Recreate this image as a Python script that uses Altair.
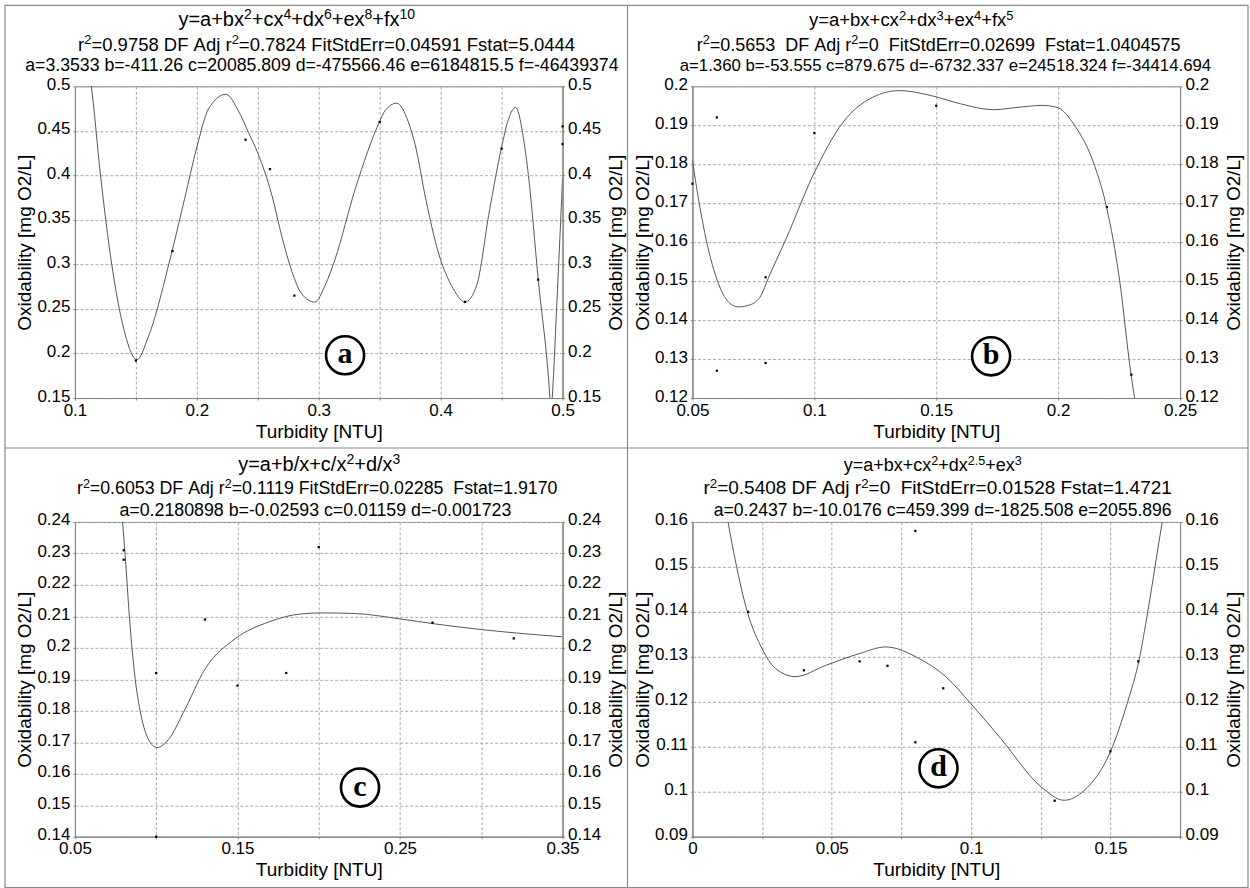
import re
import altair as alt
import pandas as pd

FONT = "Liberation Sans"

# ---------------- panel (a) ----------------
A_CURVE_X = [0.108, 0.1134, 0.1207, 0.1303, 0.140, 0.1508, 0.160, 0.1795, 0.190, 0.200, 0.2096, 0.2238,
             0.234, 0.2424, 0.250, 0.2615, 0.270, 0.278, 0.286, 0.2967, 0.3052, 0.3134, 0.330, 0.3503,
             0.3544, 0.364, 0.3735, 0.379, 0.388, 0.398, 0.4104, 0.420, 0.4295, 0.440, 0.450, 0.4557,
             0.4615, 0.468, 0.472, 0.480, 0.4896, 0.4906, 0.4916, 0.4958, 0.500]
A_CURVE_Y = [0.54, 0.500, 0.4035, 0.299, 0.228, 0.193, 0.218, 0.314, 0.374, 0.4316, 0.4746, 0.491,
             0.4727, 0.448, 0.425, 0.378, 0.330, 0.292, 0.267, 0.2577, 0.2764, 0.306, 0.385, 0.4615,
             0.4727, 0.481, 0.4600, 0.435, 0.372, 0.314, 0.2726, 0.2577, 0.2764, 0.36, 0.4316, 0.4633,
             0.4764, 0.441, 0.40, 0.284, 0.151, 0.13, 0.151, 0.27, 0.396]
A_PTS_X = [0.15, 0.18, 0.24, 0.26, 0.28, 0.35, 0.42, 0.45, 0.48, 0.50, 0.50]
A_PTS_Y = [0.192, 0.315, 0.440, 0.407, 0.265, 0.460, 0.258, 0.430, 0.283, 0.455, 0.435]
A_X_TICKS = [0.1, 0.15, 0.2, 0.25, 0.3, 0.35, 0.4, 0.45, 0.5]
A_X_LABELED = ["0.1", "0.2", "0.3", "0.4", "0.5"]
A_Y_TICKS = [0.15, 0.2, 0.25, 0.3, 0.35, 0.4, 0.45, 0.5]
A_TITLE = ["y=a+bx^{2}+cx^{4}+dx^{6}+ex^{8}+fx^{10}",
           "r^{2}=0.9758 DF Adj r^{2}=0.7824 FitStdErr=0.04591 Fstat=5.0444",
           "a=3.3533 b=-411.26 c=20085.809 d=-475566.46 e=6184815.5 f=-46439374"]

# ---------------- panel (b) ----------------
B_CURVE_X = [0.050, 0.0525, 0.055, 0.060, 0.065, 0.0687, 0.0730, 0.0776, 0.0817, 0.0885, 0.0995,
             0.1118, 0.124, 0.135, 0.148, 0.160, 0.1732, 0.185, 0.1937, 0.1999, 0.2067, 0.2149,
             0.2200, 0.2251, 0.2299, 0.2330]
B_CURVE_Y = [0.181, 0.171, 0.1625, 0.1505, 0.1445, 0.1434, 0.1438, 0.1458, 0.1516, 0.161, 0.1772,
             0.1908, 0.1972, 0.1989, 0.1976, 0.1955, 0.194, 0.1947, 0.1951, 0.1945, 0.19, 0.1797,
             0.1686, 0.1507, 0.126, 0.114]
B_PTS_X = [0.05, 0.06, 0.06, 0.08, 0.08, 0.10, 0.15, 0.22, 0.23]
B_PTS_Y = [0.175, 0.192, 0.127, 0.151, 0.129, 0.188, 0.195, 0.169, 0.126]
B_X_TICKS = [0.05, 0.1, 0.15, 0.2, 0.25]
B_X_LABELED = ["0.05", "0.1", "0.15", "0.2", "0.25"]
B_Y_TICKS = [0.12, 0.13, 0.14, 0.15, 0.16, 0.17, 0.18, 0.19, 0.2]
B_TITLE = ["y=a+bx+cx^{2}+dx^{3}+ex^{4}+fx^{5}",
           "r^{2}=0.5653  DF Adj r^{2}=0  FitStdErr=0.02699  Fstat=1.0404575",
           "a=1.360 b=-53.555 c=879.675 d=-6732.337 e=24518.324 f=-34414.694"]

# ---------------- panel (c) ----------------
C_CURVE_X = [0.0785, 0.0793, 0.0809, 0.0836, 0.0871, 0.0912, 0.0963, 0.1004, 0.1076, 0.1168, 0.1301,
             0.1486, 0.1691, 0.1895, 0.2020, 0.2223, 0.2500, 0.2715, 0.3002, 0.3500]
C_CURVE_Y = [0.245, 0.2400, 0.2294, 0.2092, 0.1900, 0.1773, 0.1700, 0.1683, 0.1709, 0.1795, 0.1933,
             0.2029, 0.2082, 0.2108, 0.2111, 0.2109, 0.2092, 0.2076, 0.2058, 0.2035]
C_PTS_X = [0.08, 0.08, 0.10, 0.10, 0.13, 0.15, 0.18, 0.20, 0.27, 0.32]
C_PTS_Y = [0.231, 0.228, 0.192, 0.140, 0.209, 0.188, 0.192, 0.232, 0.208, 0.203]
C_X_TICKS = [0.05, 0.1, 0.15, 0.2, 0.25, 0.3, 0.35]
C_X_LABELED = ["0.05", "0.15", "0.25", "0.35"]
C_Y_TICKS = [0.14, 0.15, 0.16, 0.17, 0.18, 0.19, 0.2, 0.21, 0.22, 0.23, 0.24]
C_TITLE = ["y=a+b/x+c/x^{2}+d/x^{3}",
           "r^{2}=0.6053 DF Adj r^{2}=0.1119 FitStdErr=0.02285  Fstat=1.9170",
           "a=0.2180898 b=-0.02593 c=0.01159 d=-0.001723"]

# ---------------- panel (d) ----------------
D_CURVE_X = [0.0115, 0.0128, 0.0155, 0.0197, 0.0250, 0.0298, 0.0370, 0.0478, 0.0598, 0.0694, 0.0814,
             0.0909, 0.0999, 0.1107, 0.1251, 0.1334, 0.1406, 0.1500, 0.1562, 0.1604, 0.1634, 0.1686,
             0.1700]
D_CURVE_Y = [0.1650, 0.1600, 0.1511, 0.1400, 0.1318, 0.1274, 0.1256, 0.1281, 0.1307, 0.1322, 0.1296,
             0.1256, 0.1196, 0.1118, 0.1011, 0.0981, 0.1003, 0.1089, 0.1200, 0.1296, 0.1400, 0.1600,
             0.1650]
D_PTS_X = [0.02, 0.04, 0.06, 0.07, 0.08, 0.08, 0.09, 0.13, 0.15, 0.16]
D_PTS_Y = [0.140, 0.127, 0.129, 0.128, 0.158, 0.111, 0.123, 0.098, 0.109, 0.129]
D_X_TICKS = [0, 0.025, 0.05, 0.075, 0.1, 0.125, 0.15, 0.175]
D_X_LABELED = ["0", "0.05", "0.1", "0.15"]
D_Y_TICKS = [0.09, 0.1, 0.11, 0.12, 0.13, 0.14, 0.15, 0.16]
D_TITLE = ["y=a+bx+cx^{2}+dx^{2.5}+ex^{3}",
           "r^{2}=0.5408 DF Adj r^{2}=0  FitStdErr=0.01528 Fstat=1.4721",
           "a=0.2437 b=-10.0176 c=459.399 d=-1825.508 e=2055.896"]

# panel letters (data coordinates inside each panel)
LETTERS = ["a", "b", "c", "d"]
LETTER_X = [0.3216, 0.1725, 0.2254, 0.0883]
LETTER_Y = [0.198, 0.1307, 0.1556, 0.1052]

W = 488
SUP = 0.7

# Arial / Liberation Sans advance widths (1/1000 em) used to lay out superscripts
ADV = {" ": 278, "\u00a0": 278, "+": 584, "-": 333, ".": 278, "/": 278, "=": 584,
       "A": 667, "D": 722, "E": 667, "F": 611, "S": 667,
       "a": 556, "b": 556, "c": 500, "d": 556, "e": 556, "f": 278, "i": 222, "j": 222,
       "r": 333, "s": 500, "t": 278, "x": 500, "y": 500}


def text_width(s, size):
    return sum(ADV.get(ch, 556) for ch in s) * size / 1000.0


def title_rows(lines, sizes, ys, dxs):
    rows = []
    for i, line in enumerate(lines):
        F = sizes[i]
        segs = []
        pos = 0
        for m in re.finditer(r"\^\{([^}]*)\}", line):
            if m.start() > pos:
                segs.append((line[pos:m.start()], False))
            segs.append((m.group(1), True))
            pos = m.end()
        if pos < len(line):
            segs.append((line[pos:], False))
        widths = [text_width(t, F * SUP if s else F) for t, s in segs]
        cur = W / 2 + dxs[i] - sum(widths) / 2
        for (t, s), wd in zip(segs, widths):
            rows.append({"px": cur, "py": ys[i] - (0.36 * F if s else 0),
                         "txt": t.replace(" ", "\u00a0"), "fs": F * SUP if s else F})
            cur += wd
    return pd.DataFrame(rows)


def panel(cx, cy, px, py, xdom, ydom, xticks, xlabeled, yticks, xfmt, title, idx, h,
          title_y, title_dx, title_sizes, extra=()):
    curve = pd.DataFrame({"x": cx, "y": cy})
    pts = pd.DataFrame({"x": px, "y": py})
    lab = pd.DataFrame({"x": [LETTER_X[idx]], "y": [LETTER_Y[idx]], "t": [LETTERS[idx]]})
    xsc = alt.Scale(domain=xdom, nice=False, zero=False)
    ysc = alt.Scale(domain=ydom, nice=False, zero=False)
    lablist = ",".join("'%s'" % s for s in xlabeled)
    xaxis = alt.Axis(values=xticks, format=xfmt, grid=True, title="Turbidity [NTU]",
                     labelExpr="indexof([%s], datum.label) >= 0 ? datum.label : ''" % lablist,
                     titlePadding=4, labelPadding=2)
    yleft = alt.Axis(orient="left", values=yticks, format=".2~f", grid=True,
                     title="Oxidability [mg O2/L]", titlePadding=2, labelPadding=3,
                     labelOffset=-2)
    yright = alt.Axis(orient="right", values=yticks, format=".2~f", grid=False,
                      title="Oxidability [mg O2/L]", titleAngle=270, titleBaseline="top",
                      titlePadding=6, labelPadding=3, labelOffset=-2)
    X = alt.X("x:Q", scale=xsc, axis=xaxis)
    line = alt.Chart(curve).mark_line(clip=True, color="#555555", strokeWidth=1,
                                      interpolate="monotone").encode(
        X, alt.Y("y:Q", scale=ysc, axis=yleft))
    dots = alt.Chart(pts).mark_square(size=5, color="black", opacity=1).encode(
        X, alt.Y("y:Q", scale=ysc, axis=yright))
    circ = alt.Chart(lab).mark_point(shape="circle", size=1450, filled=True, fill="white",
                                     stroke="black", strokeWidth=2.6, opacity=1).encode(
        X, alt.Y("y:Q", scale=ysc, axis=None))
    txt = alt.Chart(lab).mark_text(font="Liberation Serif", fontWeight="bold", fontSize=30,
                                   color="black", baseline="middle", dy=-1).encode(
        X, alt.Y("y:Q", scale=ysc, axis=None), text="t:N")
    inner = alt.layer(*extra, line, dots, circ, txt).resolve_axis(y="independent")

    tdf = title_rows(title, title_sizes, title_y, title_dx)
    tchart = alt.Chart(tdf).mark_text(font=FONT, align="left", baseline="alphabetic",
                                      color="black").encode(
        x=alt.X("px:Q", scale=alt.Scale(domain=[0, W], range=[0, W]), axis=None),
        y=alt.Y("py:Q", scale=alt.Scale(domain=[0, h], range=[0, h]), axis=None),
        size=alt.Size("fs:Q", scale=None, legend=None),
        text="txt:N")
    return alt.layer(tchart, inner).resolve_scale(x="independent", y="independent").properties(
        width=W, height=h)


one = pd.DataFrame({"k": [0]})
frame = alt.Chart(one).mark_rect(fillOpacity=0, stroke="#8a8a8a", strokeWidth=1.2).encode(
    x=alt.value(-70), x2=alt.value(1174), y=alt.value(-81), y2=alt.value(802))
vdiv = alt.Chart(one).mark_rule(color="#8a8a8a", strokeWidth=1.2).encode(
    x=alt.value(553), y=alt.value(-81), y2=alt.value(802))
hdiv = alt.Chart(one).mark_rule(color="#8a8a8a", strokeWidth=1.2).encode(
    x=alt.value(-70), x2=alt.value(1174), y=alt.value(362))

TOP_TY = [-60, -35.5, -15.5]
BOT_TY = [-51, -27.5, -5.5]

pa = panel(A_CURVE_X, A_CURVE_Y, A_PTS_X, A_PTS_Y, [0.1, 0.5], [0.15, 0.5], A_X_TICKS, A_X_LABELED,
           A_Y_TICKS, ".2~f", A_TITLE, 0, 312, TOP_TY, [-22, 8, 4], [20, 18.5, 17.7],
           extra=(frame, vdiv, hdiv))
pb = panel(B_CURVE_X, B_CURVE_Y, B_PTS_X, B_PTS_Y, [0.05, 0.25], [0.12, 0.2], B_X_TICKS, B_X_LABELED,
           B_Y_TICKS, ".2~f", B_TITLE, 1, 312, TOP_TY, [-25, 2.5, 9.5], [18.5, 18, 16.8])
pc = panel(C_CURVE_X, C_CURVE_Y, C_PTS_X, C_PTS_Y, [0.05, 0.35], [0.14, 0.24], C_X_TICKS, C_X_LABELED,
           C_Y_TICKS, ".2~f", C_TITLE, 2, 315, BOT_TY, [0.5, 0, -2.5], [20, 17.8, 17.8])
pd_ = panel(D_CURVE_X, D_CURVE_Y, D_PTS_X, D_PTS_Y, [0, 0.175], [0.09, 0.16], D_X_TICKS, D_X_LABELED,
            D_Y_TICKS, ".3~f", D_TITLE, 3, 315, BOT_TY, [-3.5, 1.5, 6.5], [18, 19, 17.6])

chart = alt.concat(pa, pb, pc, pd_, columns=2, spacing={"row": 124, "column": 130},
                   bounds="flush").properties(
    padding={"left": 3, "top": 3, "right": 0, "bottom": 0}, background="white"
).configure_view(stroke="#808080", strokeWidth=1).configure_axis(
    labelFont=FONT, labelFontSize=17, labelColor="black",
    titleFont=FONT, titleFontSize=19, titleFontWeight="normal", titleColor="black",
    domainColor="#808080", tickColor="#808080", tickSize=2,
    gridColor="#aaaaaa", gridDash=[3, 2], gridWidth=1,
    labelFlush=False, labelOverlap=False
)

chart.save("out.html", embed_options={"renderer": "svg", "actions": False})
